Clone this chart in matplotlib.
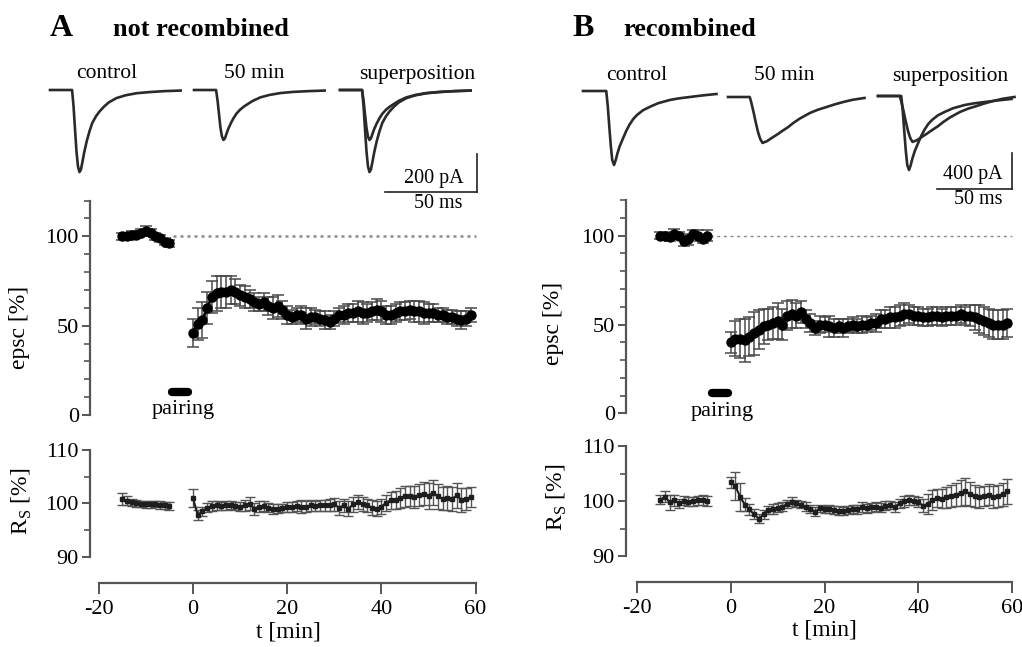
import matplotlib
matplotlib.use("Agg")
import matplotlib.pyplot as plt
import numpy as np

plt.rcParams["font.family"] = ["Liberation Serif", "DejaVu Serif"]
plt.rcParams["mathtext.fontset"] = "custom"
plt.rcParams["mathtext.rm"] = "Liberation Serif"
plt.rcParams["axes.unicode_minus"] = False

W, H = 1022, 647

# ---- data: EPSC traces (ms, pA relative to baseline)
ctrl_a_t = [0, 12, 12.8, 13.6, 14.4, 15.2, 16, 16.8, 17.6, 18.6, 20, 21.5, 23, 25,
            27, 29.5, 32, 36, 41, 47, 54, 62, 71]
ctrl_a_i = [0, 0, -86, -207, -324, -402, -432, -419, -380, -328, -268, -216, -173, -138,
            -112, -86, -65, -43, -28, -17, -11, -6, -3]
late_a_t = ctrl_a_t
late_a_i = [0, 0, -55, -128, -200, -245, -263, -255, -232, -205, -175, -148, -125, -104,
            -88, -72, -57, -39, -26, -16, -10, -6, -3]

ctrl_b_t = [0, 15.5, 16.5, 17.5, 18.5, 19.5, 20.7, 21.8, 23, 24.5, 26.7, 29, 31, 33.5,
            36, 40, 44.7, 50, 58, 64, 71, 80, 89]
ctrl_b_i = [0, 0, -170, -400, -620, -790, -846, -790, -710, -630, -540, -450, -385, -320,
            -274, -220, -180, -140, -102, -84, -69, -50, -34]
late_b_t = [0, 14.5, 15.5, 17, 18.5, 20, 21.5, 23, 26, 29, 32.4, 36, 40, 43.6,
            48, 54.7, 60, 65.8, 71, 76.9, 83, 91]
late_b_i = [0, 0, -60, -170, -290, -400, -480, -525, -505, -470, -433, -390, -345, -296,
            -245, -182, -145, -114, -85, -57, -32, -11]

# ---- data: time courses
t_pre = np.arange(-15, -4)
t_post = np.arange(0, 60)

epsc_a_pre = [100, 100, 101, 101, 102, 103, 102, 100, 99, 97, 96]
epsc_a_pre_err = [2, 2, 2, 2, 2, 3, 2, 2, 2, 2, 2]
epsc_a_post = [46, 51, 53, 60, 66, 68, 69, 69, 70, 69,
               67, 66, 65, 63, 62, 63, 61, 60, 61, 59,
               56, 55, 56, 56, 54, 55, 55, 54, 53, 52,
               54, 56, 56, 57, 57, 58, 57, 57, 58, 59,
               58, 56, 56, 57, 58, 58, 59, 58, 58, 57,
               57, 57, 56, 56, 55, 55, 54, 53, 54, 56]
epsc_a_post_err = [8, 9, 10, 9, 9, 10, 9, 9, 8, 7,
                   6, 6, 5, 5, 4, 5, 5, 6, 6, 5,
                   5, 4, 4, 5, 6, 5, 4, 4, 5, 4,
                   4, 4, 5, 5, 5, 6, 6, 5, 5, 6,
                   6, 5, 5, 5, 5, 5, 5, 6, 6, 6,
                   5, 5, 4, 4, 4, 4, 4, 5, 4, 4]

epsc_b_pre = [100, 100, 99, 101, 100, 97, 98, 101, 100, 98, 100]
epsc_b_pre_err = [2, 2, 2, 3, 2, 3, 3, 2, 3, 2, 3]
epsc_b_post = [40, 42, 42, 41, 43, 45, 47, 49, 50, 51,
               52, 50, 55, 56, 55, 57, 53, 51, 48, 50,
               50, 49, 48, 49, 48, 49, 50, 49, 50, 50,
               51, 51, 53, 53, 54, 54, 55, 56, 56, 55,
               55, 54, 54, 55, 55, 54, 55, 55, 55, 56,
               55, 55, 54, 53, 52, 51, 50, 50, 50, 51]
epsc_b_post_err = [6, 10, 11, 12, 11, 12, 11, 10, 9, 9,
                   10, 9, 8, 8, 7, 6, 5, 5, 4, 5,
                   4, 6, 5, 4, 5, 4, 4, 4, 5, 4,
                   4, 5, 5, 5, 6, 6, 6, 6, 5, 5,
                   5, 5, 5, 5, 5, 5, 5, 5, 5, 5,
                   5, 6, 7, 8, 8, 8, 8, 8, 8, 8]

rs_a_pre = [100.8, 100.5, 100.2, 100.0, 99.9, 99.8, 99.8, 99.9, 99.7, 99.6, 99.5]
rs_a_pre_err = [1.2, 0.8, 0.7, 0.6, 0.6, 0.6, 0.6, 0.6, 0.7, 0.7, 0.7]
rs_a_post = [101.0, 97.8, 98.5, 99.2, 99.5, 99.6, 99.5, 99.6, 99.7, 99.5,
             99.4, 99.6, 99.9, 99.0, 99.4, 99.5, 99.2, 98.9, 99.0, 99.1,
             99.3, 99.3, 99.5, 99.4, 99.4, 99.6, 99.5, 99.6, 99.6, 99.7,
             99.8, 99.2, 99.6, 99.0, 99.8, 100.2, 99.9, 99.6, 99.2, 99.0,
             99.4, 100.1, 100.6, 100.7, 101.0, 101.3, 101.4, 101.2, 101.6, 101.8,
             101.4, 102.0, 101.3, 100.9, 101.0, 100.8, 101.5, 100.6, 100.8, 101.2]
rs_a_post_err = [1.6, 1.0, 0.9, 0.8, 0.9, 0.9, 0.8, 0.8, 0.8, 0.8,
                 0.9, 1.0, 1.2, 1.1, 1.0, 1.0, 0.9, 0.9, 0.8, 0.8,
                 0.9, 0.9, 1.0, 1.2, 1.0, 1.0, 1.0, 1.0, 1.1, 1.2,
                 1.2, 1.3, 1.2, 1.4, 1.4, 1.3, 1.3, 1.3, 1.4, 1.4,
                 1.4, 1.5, 1.6, 1.7, 1.8, 1.9, 1.9, 2.0, 2.1, 2.2,
                 2.5, 2.4, 2.3, 2.2, 2.2, 2.3, 2.4, 2.2, 2.0, 1.8]

rs_b_pre = [100.3, 100.8, 99.8, 100.2, 99.6, 100.1, 99.9, 100.0, 100.2, 100.3, 100.1]
rs_b_pre_err = [0.8, 1.0, 1.4, 1.0, 0.9, 0.8, 0.8, 0.8, 0.8, 0.9, 0.9]
rs_b_post = [103.5, 102.8, 100.8, 99.4, 98.5, 97.6, 96.8, 97.6, 98.4, 98.6,
             98.8, 99.0, 99.5, 99.9, 99.6, 99.4, 99.0, 98.6, 98.1, 98.7,
             98.5, 98.6, 98.4, 98.3, 98.2, 98.4, 98.6, 98.5, 98.9, 98.7,
             98.9, 99.0, 98.8, 99.2, 99.3, 99.0, 99.6, 100.0, 100.3, 100.1,
             99.8, 99.2, 99.5, 100.2, 100.6, 100.5, 100.7, 100.9, 101.2, 101.5,
             101.8, 101.4, 101.0, 100.7, 101.0, 101.2, 100.8, 101.0, 101.3, 101.8]
rs_b_post_err = [1.0, 2.5, 2.6, 1.2, 1.0, 0.9, 0.8, 0.8, 0.8, 0.9,
                 0.8, 0.8, 0.8, 0.8, 0.7, 0.7, 0.8, 0.8, 0.8, 0.7,
                 0.7, 0.7, 0.8, 0.8, 0.8, 0.8, 0.8, 0.9, 0.9, 0.8,
                 0.8, 0.8, 0.8, 0.8, 0.8, 0.9, 0.9, 1.0, 0.9, 0.8,
                 0.9, 1.2, 1.8, 1.8, 1.7, 1.8, 1.9, 2.0, 2.1, 2.3,
                 2.4, 2.2, 2.0, 1.9, 1.8, 1.9, 2.0, 2.0, 2.1, 2.3]

pairing_a = (-4.5, -1.0, 13)
pairing_b = (-4.0, -0.5, 11.5)

# ---- layout helpers (pixel coords, origin top-left)
fig = plt.figure(figsize=(W / 100, H / 100), dpi=100)


def px_axes(x0, y0, x1, y1):
    return fig.add_axes([x0 / W, 1 - y1 / H, (x1 - x0) / W, (y1 - y0) / H])


def ftext(x, y, s, **kw):
    kw.setdefault("ha", "center")
    kw.setdefault("va", "center")
    fig.text(x / W, 1 - y / H, s, **kw)


def trace_axes(x_org, base, sx, sy, x_end):
    ax = px_axes(x_org - 5, base - 30, x_end + 5, base + 110)
    ax.set_xlim(-5 / sx, (x_end - x_org + 5) / sx)
    ax.set_ylim(-110 / sy, 30 / sy)
    ax.axis("off")
    return ax


def data_axes(spine_x, right_px, t0_px, sx, y_lo, y_hi, lo_px, hi_px):
    ax = px_axes(spine_x, hi_px, right_px, lo_px)
    ax.set_xlim((spine_x - t0_px) / sx, (right_px - t0_px) / sx)
    ax.set_ylim(y_lo, y_hi)
    for s in ["top", "right", "bottom"]:
        ax.spines[s].set_visible(False)
    ax.spines["left"].set_color("#555555")
    ax.spines["left"].set_linewidth(1.6)
    ax.tick_params(axis="y", which="major", length=6, width=1.4, color="#555555",
                   labelsize=16, pad=2)
    ax.tick_params(axis="y", which="minor", length=4, width=1.2, color="#555555")
    ax.set_xticks([])
    ax.patch.set_alpha(0)
    return ax


def draw_series(ax, t, v, e, kind):
    if kind == "epsc":
        ax.errorbar(t, v, yerr=e, fmt="o-", color="black", ms=6.5, lw=2,
                    ecolor="#4a4a4a", elinewidth=1.1, capsize=4, capthick=1.1,
                    clip_on=False, zorder=3)
    else:
        ax.errorbar(t, v, yerr=e, fmt="s-", color="#1e1e1e", ms=2.8, lw=1.5,
                    ecolor="#555555", elinewidth=1.0, capsize=3.5, capthick=1.0,
                    clip_on=False, zorder=3)


panels = [
    dict(letter="A", title="not recombined", lx=50, tx=113,
         tr=[(50, 90, ctrl_a_t, ctrl_a_i, None), (194, 90, late_a_t, late_a_i, None),
             (340, 90, ctrl_a_t, ctrl_a_i, (late_a_t, late_a_i))],
         sxt=1.84, syt=0.19, tr_w=133,
         labels=[(107, 74, "control"), (254, 74, "50 min"), (417, 74, "superposition")],
         bar=dict(x=477, y_top=154, y_bot=192, x_left=385, txt1="200 pA", t1=(434, 179),
                  t2=(438, 203)),
         spine_x=90, t0=193, sx=4.71, right=488,
         e_lo=415, e_hi=415 - 120 * 1.787, r_lo=556.7, r_hi=450, xspine=583,
         pre=(epsc_a_pre, epsc_a_pre_err), post=(epsc_a_post, epsc_a_post_err),
         rpre=(rs_a_pre, rs_a_pre_err), rpost=(rs_a_post, rs_a_post_err),
         pairing=pairing_a, ptxt=(-2.1, 2.8), dash=(0, (1.2, 1.6)), dlw=1.8, dstart=-4.2,
         ylab_x=20, ylab_y=327, rlab_x=22, rlab_y=501, xlab=(288, 632)),
    dict(letter="B", title="recombined", lx=572, tx=623,
         tr=[(583, 91, ctrl_b_t, ctrl_b_i, None), (728, 97, late_b_t, late_b_i, None),
             (878, 96, ctrl_b_t, ctrl_b_i, (late_b_t, late_b_i))],
         sxt=1.5, syt=0.0875, tr_w=134,
         labels=[(637, 76, "control"), (784, 76, "50 min"), (950, 76, "superposition")],
         bar=dict(x=1012, y_top=153, y_bot=189, x_left=937, txt1="400 pA", t1=(973, 175),
                  t2=(978, 200)),
         spine_x=626, t0=730.7, sx=4.69, right=1018,
         e_lo=413.3, e_hi=413.3 - 120 * 1.776, r_lo=556, r_hi=446.5, xspine=582,
         pre=(epsc_b_pre, epsc_b_pre_err), post=(epsc_b_post, epsc_b_post_err),
         rpre=(rs_b_pre, rs_b_pre_err), rpost=(rs_b_post, rs_b_post_err),
         pairing=pairing_b, ptxt=(-1.7, 1.0), dash=(0, (2.2, 2.6)), dlw=1.0, dstart=-4.4,
         ylab_x=553, ylab_y=323, rlab_x=557, rlab_y=497, xlab=(824, 630)),
]

for p in panels:
    # titles
    fig.text(p["lx"] / W, 1 - 28 / H, p["letter"], fontsize=23, fontweight="bold",
             ha="left", va="center")
    fig.text(p["tx"] / W, 1 - 29 / H, p["title"], fontsize=19, fontweight="bold",
             ha="left", va="center")

    # example traces
    for x_org, base, tt, ii, extra in p["tr"]:
        ax = trace_axes(x_org, base, p["sxt"], p["syt"], x_org + p["tr_w"])
        ax.plot(tt, ii, color="#2a2a2a", lw=1.9, solid_joinstyle="round")
        if extra is not None:
            ax.plot(extra[0], extra[1], color="#2a2a2a", lw=1.9, solid_joinstyle="round")
    for x, y, s in p["labels"]:
        ftext(x, y, s, fontsize=15.5)
    b = p["bar"]
    lax = px_axes(0, 0, W, H)
    lax.set_xlim(0, W)
    lax.set_ylim(H, 0)
    lax.axis("off")
    lax.plot([b["x"], b["x"]], [b["y_top"], b["y_bot"]], color="#222222", lw=1.2)
    lax.plot([b["x_left"], b["x"]], [b["y_bot"], b["y_bot"]], color="#222222", lw=1.2)
    ftext(b["t1"][0], b["t1"][1], b["txt1"], fontsize=14.5)
    ftext(b["t2"][0], b["t2"][1], "50 ms", fontsize=14.5)

    # EPSC time course
    ax = data_axes(p["spine_x"], p["right"], p["t0"], p["sx"], 0, 120, p["e_lo"], p["e_hi"])
    ax.set_yticks([0, 50, 100])
    ax.set_yticks(np.arange(0, 121, 10), minor=True)
    ax.spines["left"].set_bounds(0, 120)
    ax.plot([p["dstart"], 60], [100, 100], color="#8c8c8c", lw=p["dlw"],
            linestyle=p["dash"], zorder=1)
    draw_series(ax, t_pre, *p["pre"], "epsc")
    draw_series(ax, t_post, *p["post"], "epsc")
    x0, x1, yp = p["pairing"]
    ax.plot([x0, x1], [yp, yp], color="black", lw=6, solid_capstyle="round")
    ax.text(p["ptxt"][0], p["ptxt"][1], "pairing", fontsize=16, ha="center", va="center")

    # Rs time course
    ax2 = data_axes(p["spine_x"], p["right"], p["t0"], p["sx"], 90, 110, p["r_lo"], p["r_hi"])
    ax2.set_yticks([90, 100, 110])
    ax2.set_yticks([95, 105], minor=True)
    draw_series(ax2, t_pre, *p["rpre"], "rs")
    draw_series(ax2, t_post, *p["rpost"], "rs")
    sp = ax2.spines["bottom"]
    sp.set_visible(True)
    sp.set_position(("outward", (p["xspine"] - p["r_lo"]) * 0.72))
    sp.set_bounds(-20, 60)
    sp.set_color("#555555")
    sp.set_linewidth(1.6)
    ax2.set_xticks([-20, 0, 20, 40, 60])
    ax2.tick_params(axis="x", direction="out", length=8, width=1.4, color="#555555",
                    labelsize=16, pad=4)

    # axis labels
    ftext(p["ylab_x"], p["ylab_y"], "epsc [%]", fontsize=17, rotation=90)
    ftext(p["rlab_x"], p["rlab_y"], r"R$_{\mathrm{S}}$ [%]", fontsize=17, rotation=90)
    ftext(p["xlab"][0], p["xlab"][1], "t [min]", fontsize=17)

fig.savefig("out.png", dpi=100)
